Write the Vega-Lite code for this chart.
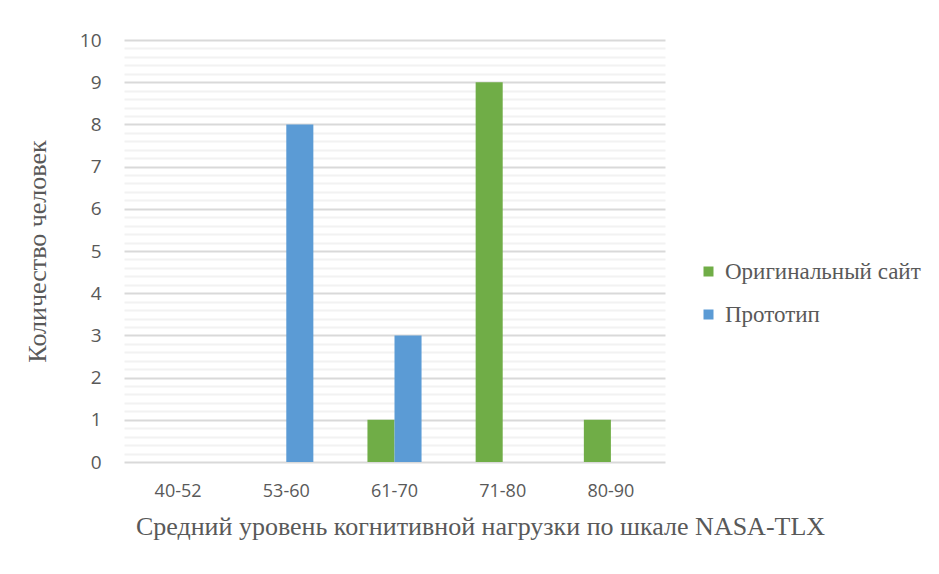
{
  "$schema": "https://vega.github.io/schema/vega-lite/v6.json",
  "autosize": "none",
  "width": 541,
  "height": 422,
  "padding": {"left": 124, "top": 40, "right": 274, "bottom": 112},
  "background": "white",
  "config": {"view": {"stroke": null}},
  "data": {
    "values": [
      {"range": "40-52", "series": "Оригинальный сайт", "count": 0},
      {"range": "40-52", "series": "Прототип", "count": 0},
      {"range": "53-60", "series": "Оригинальный сайт", "count": 0},
      {"range": "53-60", "series": "Прототип", "count": 8},
      {"range": "61-70", "series": "Оригинальный сайт", "count": 1},
      {"range": "61-70", "series": "Прототип", "count": 3},
      {"range": "71-80", "series": "Оригинальный сайт", "count": 9},
      {"range": "71-80", "series": "Прототип", "count": 0},
      {"range": "80-90", "series": "Оригинальный сайт", "count": 1},
      {"range": "80-90", "series": "Прототип", "count": 0}
    ]
  },
  "mark": {"type": "bar"},
  "encoding": {
    "x": {
      "field": "range",
      "type": "nominal",
      "sort": null,
      "scale": {"paddingInner": 0, "paddingOuter": 0},
      "axis": {
        "title": "Средний уровень когнитивной нагрузки по шкале NASA-TLX",
        "titleFont": "serif",
        "titleFontSize": 26,
        "titleFontWeight": "normal",
        "titleColor": "#595959",
        "titlePadding": 13,
        "titleX": 356,
        "titleAlign": "center",
        "labelAngle": 0,
        "labelFont": "Open Sans",
        "labelFontSize": 18,
        "labelColor": "#595959",
        "labelPadding": 20,
        "domain": false,
        "ticks": false,
        "grid": false
      }
    },
    "xOffset": {
      "field": "series",
      "type": "nominal",
      "scale": {"domain": ["Оригинальный сайт", "Прототип"], "paddingInner": 0, "paddingOuter": 1.57}
    },
    "y": {
      "field": "count",
      "type": "quantitative",
      "scale": {"domain": [0, 10], "nice": false},
      "axis": {
        "title": "Количество человек",
        "titleFont": "serif",
        "titleFontSize": 26,
        "titleFontWeight": "normal",
        "titleColor": "#595959",
        "titlePadding": 29,
        "values": [0, 0.2, 0.4, 0.6, 0.8, 1, 1.2, 1.4, 1.6, 1.8, 2, 2.2, 2.4, 2.6, 2.8, 3, 3.2, 3.4, 3.6, 3.8, 4, 4.2, 4.4, 4.6, 4.8, 5, 5.2, 5.4, 5.6, 5.8, 6, 6.2, 6.4, 6.6, 6.8, 7, 7.2, 7.4, 7.6, 7.8, 8, 8.2, 8.4, 8.6, 8.8, 9, 9.2, 9.4, 9.6, 9.8, 10],
        "labelExpr": "abs(datum.value - round(datum.value)) < 0.01 ? format(datum.value, 'd') : ''",
        "labelFont": "Open Sans",
        "labelFontSize": 19,
        "labelColor": "#595959",
        "labelPadding": 23,
        "domain": false,
        "ticks": false,
        "grid": true,
        "gridColor": {"condition": {"test": "abs(datum.value - round(datum.value)) < 0.01", "value": "#d9d9d9"}, "value": "#f2f2f2"},
        "gridWidth": 2
      }
    },
    "color": {
      "field": "series",
      "type": "nominal",
      "scale": {"domain": ["Оригинальный сайт", "Прототип"], "range": ["#70ad47", "#5b9bd5"]},
      "legend": {
        "title": null,
        "orient": "none",
        "legendX": 573,
        "legendY": 220,
        "symbolType": "square",
        "symbolSize": 100,
        "symbolStrokeWidth": 0,
        "labelFont": "serif",
        "labelFontSize": 23,
        "labelColor": "#595959",
        "labelOffset": 5,
        "labelLimit": 0,
        "rowPadding": 19
      }
    }
  }
}
